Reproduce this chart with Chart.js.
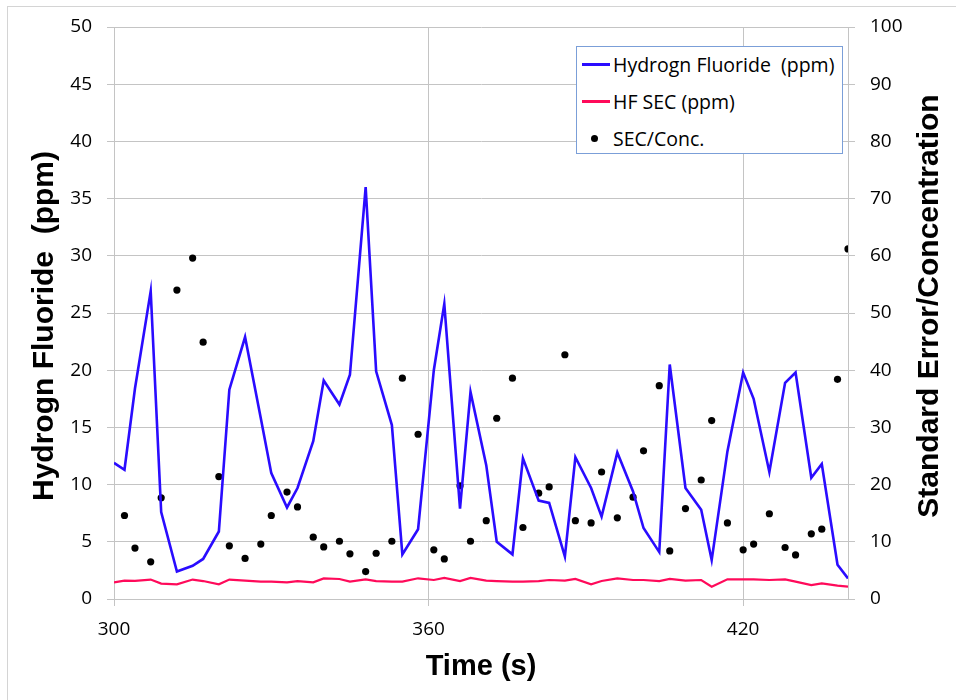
<!DOCTYPE html>
<html>
<head>
<meta charset="utf-8">
<script src="https://cdn.jsdelivr.net/npm/chart.js@4.4.1/dist/chart.umd.min.js"></script>
<style>
  body { margin: 0; background: #fff; }
  #wrap { position: relative; width: 956px; height: 700px; overflow: hidden; }
  #frame { position: absolute; left: 7px; top: 6px; width: 1000px; height: 1000px; border: 1px solid #d4d4d4; }
  #chart { position: absolute; left: 0; top: 0; }
  #legend { position: absolute; left: 576px; top: 46px; width: 265px; height: 106px;
            border: 1px solid #7b9fd8; background: #fff; font: 19.5px "Open Sans"; color: #000; }
  .row { position: absolute; left: 0; height: 30px; width: 265px; }
  .row span.txt { position: absolute; left: 36px; top: 0; line-height: 30px; white-space: pre; }
  .row span.line { position: absolute; left: 5px; top: 13px; width: 28px; height: 3px; }
  .row span.dot { position: absolute; left: 14px; top: 11px; width: 7px; height: 7px; border-radius: 50%; background: #000; }
</style>
</head>
<body>
<div id="wrap">
  <div id="frame"></div>
  <canvas id="chart" width="956" height="700"></canvas>
  <div id="legend"></div>
</div>
<script>
// time in seconds
const times = [300, 302, 304, 307, 309, 312, 315, 317, 320, 322,
               325, 328, 330, 333, 335, 338, 340, 343, 345, 348,
               350, 353, 355, 358, 361, 363, 366, 368, 371, 373,
               376, 378, 381, 383, 386, 388, 391, 393, 396, 399,
               401, 404, 406, 409, 412, 414, 417, 420, 422, 425,
               428, 430, 433, 435, 438, 440];

// Hydrogn Fluoride (ppm)
const hfConc = [11.9, 11.3, 18.4, 26.9, 7.6, 2.4, 2.9, 3.5, 5.9, 18.3,
                22.9, 15.8, 11.0, 8.0, 9.7, 13.8, 19.1, 17.0, 19.6, 36.0,
                19.9, 15.2, 3.9, 6.1, 20.0, 25.8, 7.9, 18.1, 11.7, 5.0,
                3.9, 12.3, 8.6, 8.4, 3.7, 12.4, 9.7, 7.2, 12.8, 9.4,
                6.2, 4.1, 20.5, 9.7, 7.8, 3.4, 12.9, 19.8, 17.5, 11.1,
                18.9, 19.8, 10.6, 11.8, 3.0, 1.8];

// HF SEC (ppm)
const hfSec = [1.46, 1.6, 1.58, 1.7, 1.35, 1.28, 1.7, 1.57, 1.28, 1.7,
               1.6, 1.52, 1.52, 1.46, 1.57, 1.46, 1.8, 1.75, 1.52, 1.72,
               1.57, 1.52, 1.52, 1.81, 1.66, 1.85, 1.57, 1.85, 1.6, 1.57,
               1.52, 1.52, 1.57, 1.66, 1.6, 1.75, 1.28, 1.57, 1.81, 1.66,
               1.66, 1.57, 1.75, 1.6, 1.66, 1.08, 1.72, 1.72, 1.72, 1.66,
               1.72, 1.52, 1.22, 1.37, 1.17, 1.08];

// SEC/Conc. (right axis)
const secConc = [null, 14.6, 8.9, 6.5, 17.7, 54.0, 59.6, 44.9, 21.4, 9.3,
                 7.1, 9.6, 14.6, 18.7, 16.1, 10.8, 9.1, 10.1, 7.9, 4.8,
                 8.0, 10.1, 38.6, 28.8, 8.6, 7.0, 19.8, 10.1, 13.7, 31.6,
                 38.6, 12.5, 18.5, 19.6, 42.7, 13.7, 13.3, 22.2, 14.2, 17.8,
                 25.9, 37.3, 8.4, 15.8, 20.8, 31.2, 13.3, 8.6, 9.6, 14.9,
                 9.0, 7.7, 11.4, 12.2, 38.4, 61.2];

const xTitle = "Time (s)";
const yTitle = "Hydrogn Fluoride  (ppm)";
const y1Title = "Standard Error/Concentration";

const gridColor = "#c4c4c4";
const tickFont = { family: "Open Sans", size: 19 };

const toPoints = vals => times.map((t, i) => ({ x: t, y: vals[i] }));

// axis titles, Excel style (both vertical titles read bottom to top)
const axisTitles = {
  id: "axisTitles",
  afterDraw(chart) {
    const ctx = chart.ctx;
    ctx.save();
    ctx.fillStyle = "#000";
    ctx.textAlign = "center";
    ctx.textBaseline = "alphabetic";
    ctx.font = 'bold 29px "Liberation Sans"';
    ctx.fillText(xTitle, 481, 675);
    ctx.font = 'bold 30px "Liberation Sans"';
    ctx.save();
    ctx.translate(53, 326);
    ctx.rotate(-Math.PI / 2);
    ctx.fillText(yTitle, 0, 0);
    ctx.restore();
    ctx.save();
    ctx.translate(938, 306);
    ctx.rotate(-Math.PI / 2);
    ctx.fillText(y1Title, 0, 0);
    ctx.restore();
    ctx.restore();
  }
};

function draw() {
  const chart = new Chart(document.getElementById("chart").getContext("2d"), {
    type: "line",
    data: {
      datasets: [
        {
          label: "Hydrogn Fluoride  (ppm)",
          data: toPoints(hfConc),
          borderColor: "#2a0cff",
          borderWidth: 2.6,
          pointRadius: 0,
          tension: 0,
          yAxisID: "y"
        },
        {
          label: "HF SEC (ppm)",
          data: toPoints(hfSec),
          borderColor: "#ff0a5a",
          borderWidth: 2.2,
          pointRadius: 0,
          tension: 0,
          yAxisID: "y"
        },
        {
          label: "SEC/Conc.",
          data: toPoints(secConc),
          showLine: false,
          pointRadius: 3.6,
          pointBackgroundColor: "#000",
          pointBorderWidth: 0,
          borderColor: "#000",
          yAxisID: "y1"
        }
      ]
    },
    options: {
      responsive: false,
      animation: false,
      layout: { padding: { top: 27, left: 0, right: 0, bottom: 0 } },
      plugins: {
        legend: { display: false },
        tooltip: { enabled: false }
      },
      scales: {
        x: {
          type: "linear",
          min: 300,
          max: 440,
          afterFit: s => { s.height = 101; },
          ticks: { stepSize: 60, includeBounds: false, padding: 12, color: "#000", font: tickFont },
          grid: { color: gridColor, tickLength: 7 },
          border: { color: gridColor }
        },
        y: {
          position: "left",
          min: 0,
          max: 50,
          afterFit: s => { s.width = 114; },
          ticks: { stepSize: 5, padding: 15, color: "#000", font: tickFont },
          grid: { color: gridColor, tickLength: 7 },
          border: { color: gridColor }
        },
        y1: {
          position: "right",
          min: 0,
          max: 100,
          afterFit: s => { s.width = 108; },
          ticks: { stepSize: 10, padding: 15, color: "#000", font: tickFont },
          grid: { drawOnChartArea: false, color: gridColor, tickLength: 7 },
          border: { color: gridColor }
        }
      }
    },
    plugins: [axisTitles]
  });

  // legend box built from the datasets
  const legend = document.getElementById("legend");
  const rowTops = [3, 40, 77];
  chart.data.datasets.forEach((ds, i) => {
    const row = document.createElement("div");
    row.className = "row";
    row.style.top = rowTops[i] + "px";
    const mark = document.createElement("span");
    if (ds.showLine === false) {
      mark.className = "dot";
    } else {
      mark.className = "line";
      mark.style.background = ds.borderColor;
    }
    const txt = document.createElement("span");
    txt.className = "txt";
    txt.textContent = ds.label;
    row.appendChild(mark);
    row.appendChild(txt);
    legend.appendChild(row);
  });
}

Promise.all([
  document.fonts.load('19px "Open Sans"'),
  document.fonts.load('bold 30px "Liberation Sans"')
]).then(draw, draw);
</script>
</body>
</html>
